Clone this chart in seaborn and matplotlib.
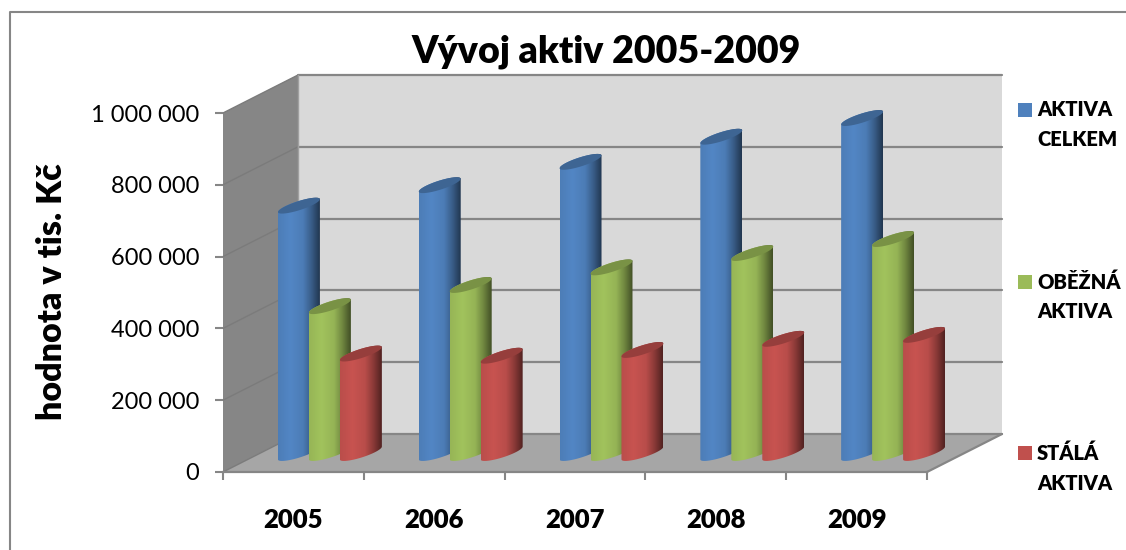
import numpy as np
import pandas as pd
import matplotlib
matplotlib.use("Agg")
import matplotlib.pyplot as plt
import seaborn as sns
from matplotlib.patches import Polygon, Rectangle

# values (tis. Kc)
roky = ["2005", "2006", "2007", "2008", "2009"]
aktiva_celkem = [689000, 746000, 811000, 881000, 933000]
obezna_aktiva = [409000, 468000, 517000, 557000, 596000]
stala_aktiva = [277000, 271000, 287000, 318000, 329000]

nazvy = ["AKTIVA\nCELKEM", "OBĚŽNÁ\nAKTIVA", "STÁLÁ\nAKTIVA"]
barvy = ["#4f81bd", "#9bbb59", "#c0504d"]
y_ticks = [0, 200000, 400000, 600000, 800000, 1000000]
y_labels = ["0", "200 000", "400 000", "600 000", "800 000", "1 000 000"]

df = pd.DataFrame({
    "rok": roky * 3,
    "hodnota": aktiva_celkem + obezna_aktiva + stala_aktiva,
    "typ": [n for n in nazvy for _ in roky],
})

sns.set_theme(style="white")
plt.rcParams["font.family"] = ["Lato", "DejaVu Sans"]

W, H = 1126, 550
GRAY = "#868686"
fig = plt.figure(figsize=(W / 100, H / 100), dpi=100)


def rect(l, t, r, b):
    return [l / W, 1 - b / H, (r - l) / W, (b - t) / H]


# canvas in pixels for the walls, the frame and the texts
bg = fig.add_axes([0, 0, 1, 1], zorder=0)
bg.set_xlim(0, W)
bg.set_ylim(H, 0)
bg.axis("off")

# 3d box: front plane, back plane
fl, fr, fb, ft = 223, 927, 472, 113
dx, dy = 75, 38
bg.add_patch(Polygon([(fl + dx, ft - dy), (fr + dx, ft - dy), (fr + dx, fb - dy), (fl + dx, fb - dy)], fc="#d9d9d9", ec="none"))
bg.add_patch(Polygon([(fl, ft), (fl + dx, ft - dy), (fl + dx, fb - dy), (fl, fb)], fc=GRAY, ec="none"))
bg.add_patch(Polygon([(fl, fb), (fl + dx, fb - dy), (fr + dx, fb - dy), (fr, fb)], fc="#a6a6a6", ec="none"))
for t in y_ticks:
    y = fb - t / 1000000 * (fb - ft)
    bg.plot([fl, fl + dx], [y, y - dy], color="#7b7b7b", lw=1)
    bg.plot([fl + dx, fr + dx], [y - dy, y - dy], color=GRAY, lw=1.6)
bg.plot([fr, fr + dx], [fb, fb - dy], color=GRAY, lw=1.6)
bg.plot([fl + dx, fl + dx], [ft - dy, fb - dy], color="#a0a0a0", lw=1)

# outer frame, only left and top show in the picture
bg.plot([9.5, 9.5, W], [H, 11.5, 11.5], color=GRAY, lw=1.5)

# axis ticks and labels sit on the front plane
ax_front = fig.add_axes(rect(fl, ft, fr, fb), zorder=1)
ax_front.patch.set_visible(False)
ax_front.set_xlim(-0.5, 4.5)
ax_front.set_ylim(0, 1000000)
for s in ["top", "right", "left"]:
    ax_front.spines[s].set_visible(False)
ax_front.spines["bottom"].set_color(GRAY)
ax_front.spines["bottom"].set_linewidth(1.6)
ax_front.set_yticks(y_ticks, y_labels, fontsize=17, color="black")
ax_front.set_xticks(np.arange(-0.5, 5, 1), [""] * 6)
ax_front.set_xticks(range(5), roky, minor=True, fontsize=18.5, fontweight="heavy", color="black")
ax_front.tick_params(axis="both", which="major", length=6, width=1.5, color=GRAY, left=True, bottom=True)
ax_front.tick_params(axis="y", pad=11)
ax_front.tick_params(axis="x", which="minor", length=0, pad=26)

# bars live on the middle plane of the box
ax = fig.add_axes(rect(fl + dx / 2 - 1, ft - dy / 2, fr + dx / 2 - 1, fb - dy / 2), zorder=2)
sns.barplot(df, x="rok", y="hodnota", hue="typ", hue_order=nazvy, palette=barvy, saturation=1,
            width=0.66, gap=-0.355, legend=False, ax=ax)
ax.set_ylim(0, 1000000)
ax.set_xlim(-0.5, 4.5)
ax.axis("off")

px_y = 1000000 / (fb - ft)
skew, minor_axis = 6.4 * px_y, 4.7 * px_y

# cylinder shading: left to right brightness along the bar
shade_pos = [0, 0.3, 0.6, 0.8, 1]
shade_val = [0.97, 1.04, 0.96, 0.72, 0.42]
shade = np.interp(np.linspace(0, 1, 128), shade_pos, shade_val)

# swap every seaborn bar for a shaded body and a dark top ellipse
for i, bar in enumerate(ax.patches):
    x0, w, h = bar.get_x(), bar.get_width(), bar.get_height()
    col = np.array(bar.get_facecolor()[:3])
    bar.set_visible(False)
    cx, a = x0 + w / 2, w / 2
    t1 = np.linspace(np.pi, 2 * np.pi, 40)
    t2 = np.linspace(0, np.pi, 40)
    lower = np.c_[cx + a * np.cos(t1), skew * np.cos(t1) + minor_axis * np.sin(t1)]
    upper = np.c_[cx + a * np.cos(t2), h + skew * np.cos(t2) + minor_axis * np.sin(t2)]
    body = Polygon(np.r_[lower, upper], fc="none", ec="none", transform=ax.transData, clip_on=False)
    ax.add_patch(body)
    grad = np.clip(col[None, None, :] * shade[None, :, None], 0, 1)
    pad = 2 * (skew + minor_axis)
    im = ax.imshow(grad, extent=(x0, x0 + w, -pad, h + pad), aspect="auto", interpolation="bilinear",
                   zorder=10 + 2 * i)
    im.set_clip_box(fig.bbox)
    im.set_clip_path(body)
    top = np.c_[cx + a * np.cos(t1 * 2), h + skew * np.cos(t1 * 2) + minor_axis * np.sin(t1 * 2)]
    ax.add_patch(Polygon(top, fc=col * 0.78, ec="none", clip_on=False, zorder=11 + 2 * i))
ax.set_ylim(0, 1000000)
ax.set_xlim(-0.5, 4.5)

# texts
bg.text(606, 52, "Vývoj aktiv 2005-2009", fontsize=27, fontweight="heavy", color="black", ha="center", va="center")
bg.text(52, 292, "hodnota v tis. Kč", fontsize=24.5, fontweight="heavy", color="black", rotation=90, ha="center", va="center")

# legend: swatch beside the first line of each two line entry
for nazev, barva, ly in zip(nazvy, barvy, [110, 282, 453]):
    bg.add_patch(Rectangle((1018, ly - 7), 14, 14, fc=barva, ec="none"))
    prvni, druhy = nazev.split("\n")
    bg.text(1037, ly, prvni, fontsize=14.5, fontweight="heavy", color="black", va="center")
    bg.text(1037, ly + 30, druhy, fontsize=14.5, fontweight="heavy", color="black", va="center")

fig.savefig("out.png", dpi=100)
